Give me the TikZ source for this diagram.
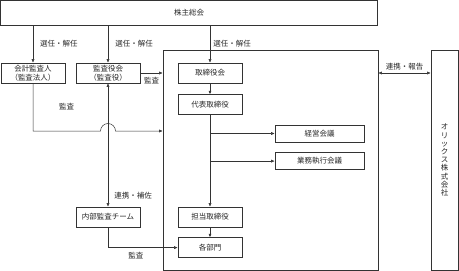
\documentclass[tikz,border=0pt]{standalone}
\usepackage{fontspec}
\setmainfont{Noto Sans CJK JP}
\usepackage{tikz}
\usetikzlibrary{arrows.meta,positioning,calc}

\begin{document}
\begin{tikzpicture}[
    x=1pt, y=1pt,
    node distance=10pt,
    box/.style={draw=black!80, line width=0.6pt, minimum width=64pt, minimum height=20pt, inner sep=1pt, align=center, font=\fontsize{7.5}{9.5}\selectfont, text=black!85},
    lbl/.style={font=\fontsize{7.5}{9}\selectfont, text=black!85, inner sep=1pt},
    arrow/.style={-{Latex[length=3.5pt,width=3pt]}, line width=0.5pt, draw=black!80},
    dblarrow/.style={{Latex[length=3.5pt,width=3pt]}-{Latex[length=3.5pt,width=3pt]}, line width=0.5pt, draw=black!80}
]
\useasboundingbox (0,0) rectangle (459,-271);

% Frames
\node[box, minimum width=377pt, minimum height=24.5pt] (soukai) at (189,-12.75) {株主総会};
\node[box, minimum width=215pt, minimum height=220pt] (frame) at (270.5,-160) {};
\node[box, minimum width=27pt, minimum height=220pt, font=\fontsize{7.5}{8.2}\selectfont] (orix) at (444.5,-160) {オ\\リ\\ッ\\ク\\ス\\株\\式\\会\\社};

% Audit side
\node[box] (kaikei) at (33,-73) {会計監査人\\（監査法人）};
\node[box] (kansa) at (108,-73) {監査役会\\（監査役）};
\node[box] (naibu) at (108,-217) {内部監査チーム};

% Executive side
\node[box] (torishimari) at (210,-73) {取締役会};
\node[box, below=11pt of torishimari] (daihyo) {代表取締役};
\node[box, minimum width=89pt, minimum height=17pt] (keiei) at (319.5,-133.5) {経営会議};
\node[box, minimum width=89pt, minimum height=17pt, below=of keiei] (gyomu) {業務執行会議};
\node[box] (tanto) at (210,-217) {担当取締役};
\node[box, below=of tanto] (bumon) {各部門};

% Arrows
\draw[arrow] (kaikei.north |- soukai.south) -- node[lbl, right=6pt] {選任・解任} (kaikei);
\draw[arrow] (kansa.north |- soukai.south) -- node[lbl, right=6pt] {選任・解任} (kansa);
\draw[arrow] (torishimari.north |- soukai.south) -- node[lbl, right=2pt] {選任・解任} (torishimari);
\draw[arrow] (kansa) -- node[lbl, below=3pt] {監査} (kansa -| frame.west);
\draw[arrow] (kaikei) -- (kaikei.south |- 0,-131) -- node[lbl, above=20pt] {監査} ($(kansa.south |- 0,-131)+(-7.5,0)$)
    arc[start angle=180, end angle=0, radius=7.5] -- (frame.west |- 0,-131);
\draw[dblarrow] (kansa) -- node[lbl, pos=0.91, right=5pt] {連携・補佐} (naibu);
\draw[arrow] (naibu) |- node[lbl, pos=0.7, below=3pt] {監査} (bumon);
\draw[arrow] (torishimari) -- (daihyo);
\draw[arrow] (daihyo) -- (tanto);
\draw[arrow] (daihyo.south |- keiei) -- (keiei);
\draw[arrow] (daihyo.south |- gyomu) -- (gyomu);
\draw[arrow] (tanto) -- (bumon);
\draw[dblarrow] (frame.east |- kansa) -- node[lbl, above=2pt] {連携・報告} (orix.west |- kansa);

\end{tikzpicture}
\end{document}
